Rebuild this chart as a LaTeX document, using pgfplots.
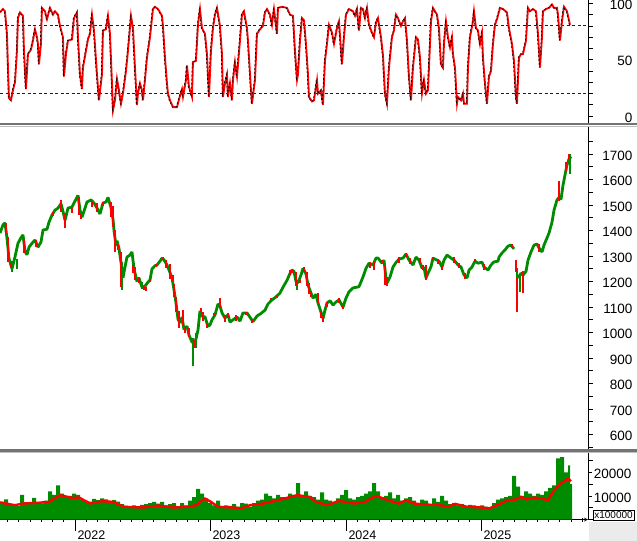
\documentclass[border=0pt]{standalone}
\usepackage{fontspec}
\setmainfont{Liberation Sans}
\usepackage{pgfplots}
\usepackage{pgfplotstable}
\pgfplotsset{compat=1.18}

\definecolor{cgreen}{RGB}{0,140,0}
\definecolor{cred}{RGB}{255,0,0}
\definecolor{cblue}{RGB}{0,0,255}

% x is in chart pixels: 2022 at 75, 2023 at 210, 2024 at 346, 2025 at 481
\pgfplotstableread{
x v
0 92
3 95
5 93
7 73
8 43
9 16
11 14
13 23
15 30
17 58
18 87
20 92
23 89
24 58
26 24
28 55
31 59
33 67
35 77
37 70
38 64
39 46
41 64
42 96
45 93
47 86
50 96
53 90
55 93
58 90
60 80
63 70
64 35
66 55
68 67
72 68
74 87
77 92
78 70
80 37
82 24
83 43
86 58
88 68
90 73
92 90
94 76
97 37
99 14
102 37
103 76
106 77
108 89
110 73
112 29
113 5
115 14
117 33
119 23
121 11
123 20
126 40
128 58
131 89
133 78
135 43
137 10
138 20
140 29
142 23
143 14
145 32
147 52
150 70
153 95
155 97
158 95
162 89
163 80
165 52
167 29
168 20
170 14
173 8
177 8
180 18
182 24
183 17
186 32
187 45
189 26
192 17
193 48
196 49
198 81
200 95
202 78
205 73
207 55
209 17
211 58
213 78
215 90
217 96
220 80
222 55
223 17
225 29
227 37
228 17
230 29
232 14
233 32
235 48
237 35
240 67
242 90
244 93
247 78
248 67
251 23
252 11
255 32
257 73
260 77
263 80
265 92
267 95
270 90
272 81
274 95
277 73
278 96
282 97
287 96
290 90
293 89
295 58
297 32
298 37
300 67
302 87
304 85
306 64
308 37
309 17
312 13
314 14
317 32
318 20
321 23
323 10
325 49
327 64
329 81
332 74
334 64
337 78
339 84
342 46
344 70
346 90
349 95
353 93
355 89
357 95
359 76
361 96
363 95
365 87
367 96
369 81
372 74
374 70
376 83
378 87
381 70
383 54
385 20
387 11
389 43
392 70
394 76
396 90
398 87
401 80
403 84
405 87
407 67
409 35
411 14
413 43
416 70
418 68
420 52
422 20
424 32
426 20
428 23
431 84
433 96
437 90
439 78
441 46
443 43
444 64
446 84
448 70
450 61
452 70
453 55
455 43
457 11
458 17
461 14
463 20
464 11
467 11
468 43
470 70
473 84
474 93
476 78
478 76
480 64
482 74
483 52
485 29
487 11
489 35
491 40
493 64
495 81
497 86
500 96
503 95
507 92
509 78
512 64
514 49
516 17
517 11
519 52
521 55
523 55
526 67
528 96
530 93
533 95
536 93
538 73
540 43
542 70
543 93
546 95
549 96
552 99
554 96
557 96
558 90
560 67
562 84
564 97
567 93
568 89
570 81
}\stoch

\pgfplotstableread{
x c
0 1390
3 1422
5 1430
7 1370
9 1290
12 1250
15 1297
18 1350
21 1372
23 1383
25 1318
27 1305
29 1335
32 1350
35 1363
38 1335
41 1355
43 1402
47 1405
49 1433
52 1461
55 1480
58 1488
61 1505
63 1475
65 1440
68 1488
72 1492
74 1508
77 1530
78 1538
80 1480
82 1452
85 1488
87 1512
91 1520
94 1508
97 1488
100 1465
103 1508
106 1512
108 1530
111 1490
113 1445
114 1400
116 1340
117 1360
119 1330
121 1275
123 1215
125 1257
127 1296
130 1304
132 1316
134 1250
137 1200
139 1214
142 1178
145 1182
148 1198
150 1206
152 1250
155 1262
157 1265
160 1280
162 1292
164 1285
167 1265
170 1235
172 1214
174 1167
176 1116
178 1052
180 1038
182 1061
184 1012
187 1025
189 990
192 963
194 960
196 975
198 1010
200 1085
202 1065
205 1061
208 1025
210 1030
212 1050
215 1069
218 1112
220 1105
222 1077
225 1057
228 1070
230 1041
233 1050
237 1061
240 1045
243 1077
247 1077
250 1060
253 1043
257 1065
261 1075
265 1088
268 1112
272 1128
276 1140
280 1155
283 1178
287 1205
290 1232
292 1245
294 1240
296 1200
298 1195
301 1226
303 1252
306 1230
308 1186
311 1155
313 1135
316 1150
318 1116
321 1080
323 1055
325 1088
327 1116
330 1125
333 1108
336 1120
339 1128
343 1100
346 1135
349 1160
353 1175
357 1178
359 1180
363 1218
366 1252
369 1272
373 1265
376 1292
378 1292
382 1272
384 1284
386 1210
387 1194
390 1218
393 1257
396 1275
399 1288
403 1292
406 1308
409 1284
413 1265
416 1296
419 1284
422 1253
424 1255
426 1214
428 1233
431 1258
433 1292
437 1284
439 1280
442 1257
444 1284
447 1304
451 1292
454 1284
458 1265
461 1257
464 1226
467 1214
469 1245
472 1257
475 1280
478 1272
482 1276
484 1257
488 1245
491 1265
494 1277
498 1280
499 1296
502 1312
505 1324
508 1339
511 1343
514 1328
515 nan
518 1214
521 1233
523 1225
526 1240
528 1284
531 1316
534 1343
537 1347
539 1332
542 1316
544 1343
547 1371
549 1390
552 1433
554 1480
557 1520
559 1530
561 1522
563 1578
565 1618
567 1657
569 1680
571 1690
}\price

\pgfplotstableread{
x y e
6 1410 20
8 1326 49
11 1262 10
24 1338 25
36 1350 14
53 1465 8
61 1497 24
65 1440 29
72 1480 10
79 1496 35
81 1455 10
92 1502 10
97 1490 18
103 1505 8
111 1482 30
113 1455 40
115 1359 43
118 1335 12
121 1247 69
133 1250 16
135 1232 25
139 1205 12
144 1175 8
146 1172 8
150 1205 6
156 1262 6
163 1290 6
166 1270 16
170 1240 30
173 1215 12
174 1165 27
176 1110 31
179 1050 33
183 1057 33
185 1010 12
189 1000 18
194 955 14
201 1090 8
203 1063 18
207 1028 10
214 1070 6
220 1115 20
225 1055 12
228 1067 10
236 1058 12
246 1075 6
252 1045 8
271 1130 4
277 1140 4
290 1236 10
292 1242 8
296 1210 27
300 1200 6
304 1248 10
307 1210 27
309 1174 22
311 1150 12
318 1137 20
321 1071 14
323 1055 12
327 1110 10
339 1125 10
343 1100 8
370 1265 12
374 1262 16
382 1275 8
385 1226 39
387 1200 18
399 1285 12
406 1305 8
410 1280 12
420 1280 12
423 1255 10
426 1237 29
433 1292 6
438 1280 10
442 1255 10
454 1285 12
459 1262 10
465 1222 10
475 1282 6
484 1257 12
512 1338 8
516 1261 23
517 1150 69
523 1200 43
539 1332 15
559 1555 39
566 1650 20
569 1690 12
}\redbars

\pgfplotstableread{
x y e
12 1258 22
17 1270 20
122 1220 55
142 1185 15
193 925 55
196 970 30
297 1180 15
323 1055 15
517 1230 25
520 1195 35
570 1660 40
}\greenbars

\pgfplotstableread{
x v
0 7600
4 8600
8 6500
12 6200
16 5800
20 10500
24 7400
28 7000
32 9200
36 7200
40 6900
44 8000
48 12000
52 10500
56 14500
60 11000
64 9500
68 10000
72 11000
76 10500
80 8500
84 8000
88 7600
92 8800
96 8200
100 9000
104 8600
108 7500
112 8200
116 7600
120 6500
124 5800
128 5500
132 6000
136 5400
140 6200
144 6500
148 7000
152 7500
156 6800
160 7500
164 6000
168 6500
172 7000
176 5600
180 7000
184 6000
188 8000
192 9500
196 13000
200 11000
204 9000
208 7000
212 6000
216 8000
220 5500
224 6000
228 5800
232 6500
236 5500
240 7000
244 6800
248 5500
252 7000
256 8000
260 8500
264 11000
268 10000
272 9000
276 10500
280 9500
284 9500
288 11000
292 10500
296 15500
300 10500
304 12000
308 10000
312 9500
316 8500
320 11500
324 8500
328 8000
332 7500
336 9000
340 10500
344 12500
348 9000
352 8500
356 9500
360 10000
364 11000
368 12000
372 15500
376 12000
380 9500
384 10000
388 11500
392 9000
396 10500
400 8000
404 9000
408 9500
412 8000
416 7000
420 8500
424 8000
428 6500
432 9000
436 7500
440 10000
444 8000
448 6500
452 7000
456 6000
460 6500
464 5800
468 6200
472 6000
476 5500
480 6000
484 5500
488 5000
492 7000
496 8500
500 9000
504 9500
508 10000
512 18500
516 14000
520 10000
524 12000
528 11000
532 10000
536 11000
540 10500
544 12000
548 13500
552 14500
556 26000
560 26500
564 20000
568 23000
570 15000
572 15000
}\vol

\pgfplotstableread{
x m
0 7230
15 6100
23 6800
38 7100
49 7500
60 10350
72 9200
79 9360
90 6800
102 7800
113 7500
124 5400
143 5100
158 5950
173 5100
188 5400
196 6100
205 8900
211 7500
218 5400
233 5100
241 4700
250 6100
263 6800
278 8200
297 10350
309 9640
316 7500
327 6100
339 7940
354 6800
365 7500
376 10070
388 8200
399 6800
406 8200
414 6800
425 6380
440 6100
448 5400
455 6660
467 5400
482 5100
489 4700
497 6100
508 8200
516 8500
521 9640
527 8500
534 9360
542 8900
548 8200
553 11770
561 15300
568 17440
571 16300
}\volma

\pgfplotsset{
  panel/.style={
    scale only axis, width=588bp, xmin=0, xmax=588,
    anchor=north west,
    axis y line=right,
    axis line style={-, black, line width=0.8bp},
    tick align=outside,
    major tick length=5bp, minor tick length=5bp,
    every tick/.style={black, line width=0.8bp},
    yticklabel style={font=\fontsize{13.5bp}{15bp}\selectfont, anchor=east, xshift=43bp, yshift=-1.5bp},
    /pgf/number format/assume math mode=true,
    /pgf/number format/1000 sep={},
    scaled y ticks=false,
    unbounded coords=jump,
  },
  bars/.style={draw=none, mark=none, forget plot,
    error bars/.cd, y dir=both, y explicit,
    error bar style={draw=#1, line width=2.2bp}, error mark=none},
}

\begin{document}
\begin{tikzpicture}[x=1bp,y=1bp]
\useasboundingbox (0,0) rectangle (637,-541);

% stochastic
\begin{axis}[panel, axis x line=none, at={(0bp,0bp)}, height=123bp, ymin=-6.1, ymax=103,
  ytick={0,50,100}, minor ytick={10,20,30,40,60,70,80,90}]
\addplot[draw=cblue, line width=1.1bp, dash pattern=on 3bp off 2.5bp] coordinates {(0,80) (588,80)};
\addplot[draw=cblue, line width=1.1bp, dash pattern=on 3bp off 2.5bp] coordinates {(0,20) (588,20)};
\addplot[cred, line width=1.8bp] table[x=x, y=v] {\stoch};
\addplot[black, line width=0.6bp, dash pattern=on 2bp off 2bp, xshift=-0.7bp] table[x=x, y=v] {\stoch};
\end{axis}

% price
\begin{axis}[panel, axis x line=none, at={(0bp,-127bp)}, height=322bp, ymin=543.6, ymax=1805.9,
  ytick={600,700,...,1700}, minor ytick={550,650,...,1750}]
\addplot[cgreen, line width=2.8bp, line join=bevel] table[x=x, y=c] {\price};
\addplot[bars=cgreen] table[x=x, y=y, y error=e] {\greenbars};
\addplot[bars=cred] table[x=x, y=y, y error=e] {\redbars};
\end{axis}

% volume and the date axis
\begin{axis}[panel, at={(0bp,-452bp)}, height=67.5bp, ymin=0, ymax=28700,
  axis x line=bottom,
  ytick={10000,20000}, minor ytick={0,5000,15000,25000},
  xtick={7.5,18.75,30,41.25,52.5,63.75,86.25,97.5,108.75,120,131.25,142.5,153.75,165,176.25,187.5,198.75,221.3,232.7,244,255.3,266.7,278,289.3,300.7,312,323.3,334.7,357.25,368.5,379.75,391,402.25,413.5,424.75,436,447.25,458.5,469.75,492.25,503.5,514.75,526,537.25,548.5,559.75,571,582.25},
  xticklabels={}, major tick length=4bp,
  extra x ticks={75,210,346,481},
  extra x tick labels={2022,2023,2024,2025},
  extra x tick style={major tick length=22bp,
    xticklabel style={font=\fontsize{12.5bp}{14bp}\selectfont, anchor=north west, xshift=-1bp, yshift=3.5bp}},
  ]
\addplot[draw=none, fill=cgreen, const plot] table[x=x, y=v] {\vol} \closedcycle;
\addplot[cred, line width=2.4bp] table[x=x, y=m] {\volma};
\end{axis}

% panel separators and corner
\fill[black!55] (0,-123) rectangle (637,-125.5);
\draw[black!25, line width=1bp] (0,-126.5) -- (637,-126.5);
\fill[black!55] (0,-449) rectangle (637,-451.5);
\draw[black!25, line width=1bp] (0,-452) -- (637,-452);
\fill[black!8] (589,-522) rectangle (637,-541);
\node[draw=black, line width=0.6bp, fill=white, inner sep=1.2bp,
  font=\fontsize{10bp}{11bp}\selectfont] at (613.5,-515.5) {x100000};
\end{tikzpicture}
\end{document}
